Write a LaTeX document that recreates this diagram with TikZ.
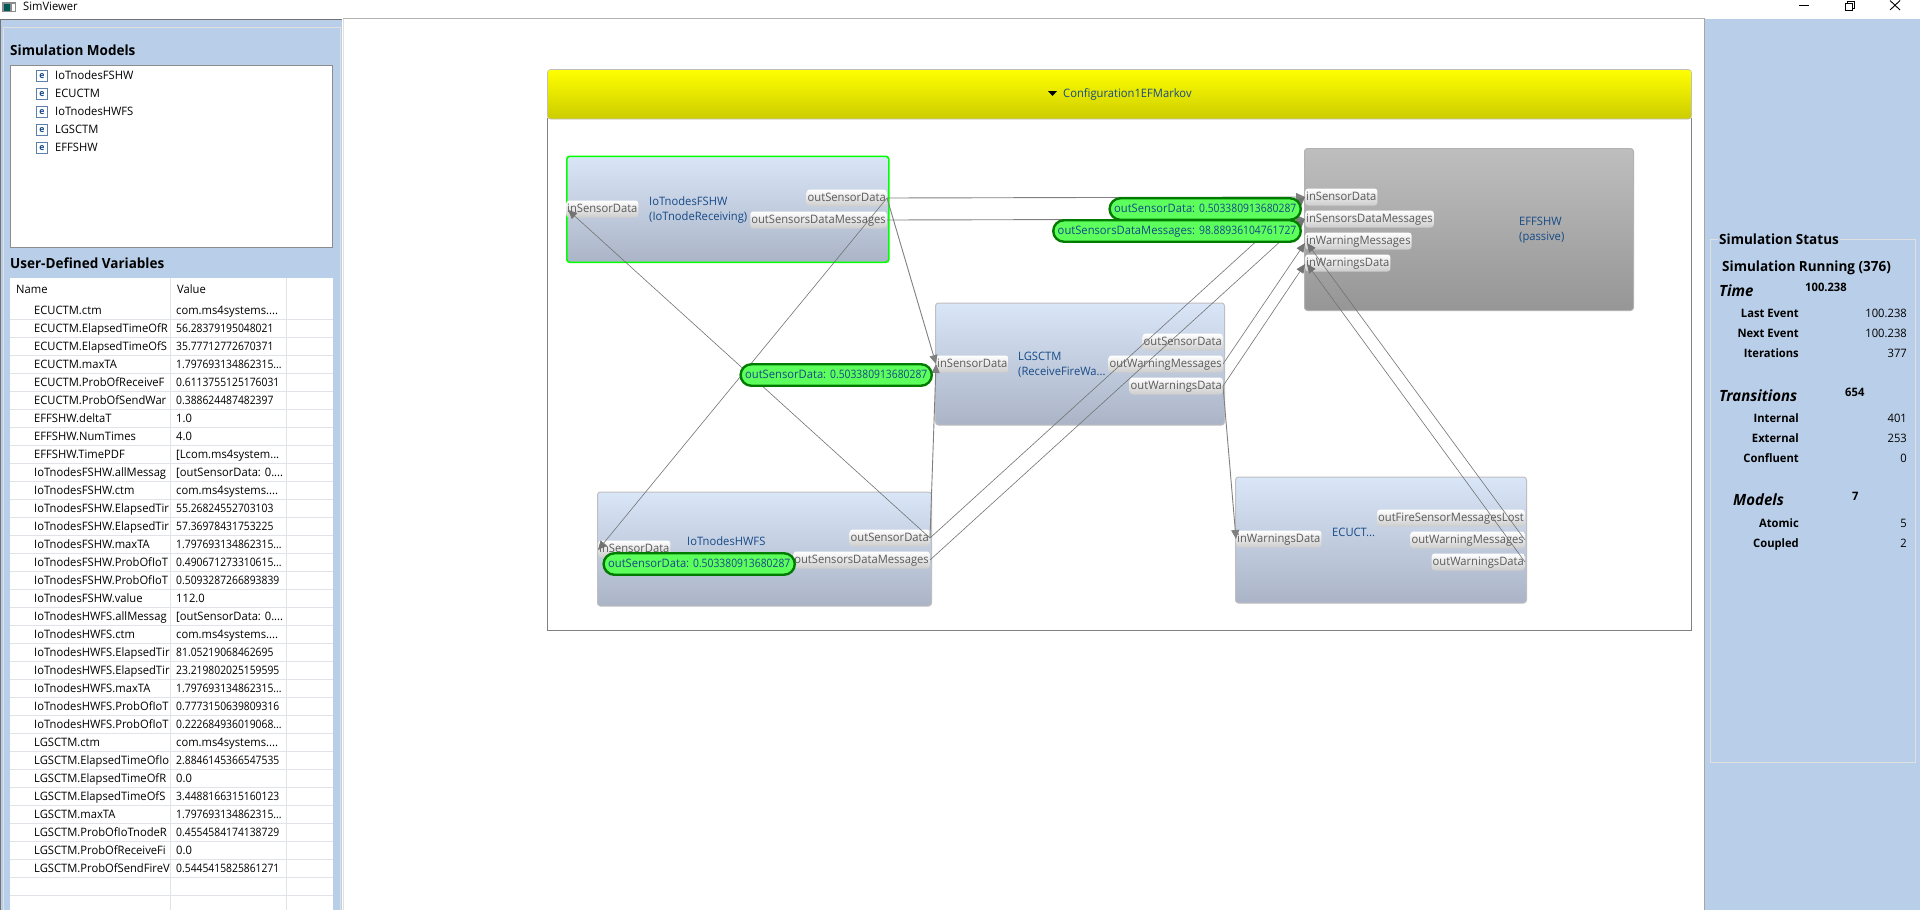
\documentclass[tikz,border=0pt]{standalone}
\usepackage{fontspec}
\setmainfont[FakeStretch=0.965]{Open Sans}
\newfontfamily\dgt[FakeStretch=0.89]{Open Sans}
\usetikzlibrary{arrows.meta,shapes.misc}
\definecolor{panelc}{HTML}{B9CFE9}
\definecolor{framec}{HTML}{808080}
\definecolor{gridc}{HTML}{E0E4E8}
\definecolor{namec}{HTML}{164A86}
\definecolor{porttx}{HTML}{5A5A5A}
\definecolor{bubblef}{HTML}{5CFF5C}
\definecolor{bubbled}{HTML}{007B00}
\definecolor{blockt}{HTML}{D9E6F8}
\definecolor{blockb}{HTML}{AAB4C6}
\definecolor{greyt}{HTML}{BEBEBE}
\definecolor{greyb}{HTML}{969696}
\newcommand{\fnorm}{\fontsize{11.6}{14}\selectfont}
\newcommand{\fhead}{\fontsize{14}{16}\selectfont\bfseries}
\newcommand{\fsect}{\fontsize{15.5}{18}\selectfont\bfseries\itshape}
\tikzset{
  txt/.style={inner sep=0pt,anchor=west,text height=8.5pt,text depth=2.5pt,font=\fnorm,text=black},
  txtr/.style={txt,anchor=east},
  btxt/.style={txt,font=\fnorm\bfseries},
  btxtr/.style={btxt,anchor=east},
  headtxt/.style={txt,font=\fhead,text height=10pt,text depth=3pt},
  secttxt/.style={txt,font=\fsect,text height=10pt,text depth=3pt},
  block/.style={anchor=north west,inner sep=0pt,rounded corners=3pt,top color=blockt,bottom color=blockb,draw=#1,line width=1pt},
  block/.default={black!25},
  greyblock/.style={anchor=north west,inner sep=0pt,rounded corners=3pt,top color=greyt,bottom color=greyb,draw=black!30,line width=1pt},
  blockname/.style={txt,text=namec},
  portl/.style={anchor=west,inner xsep=1pt,inner ysep=0pt,minimum height=17pt,rounded corners=3pt,top color=white,bottom color=black!20,text=porttx,font=\fnorm,text height=8.5pt,text depth=2.5pt},
  portr/.style={portl,anchor=east},
  wire/.style={draw=framec,line width=0.9pt},
  thin wire/.style={draw=black!55,line width=0.6pt},
  tip/.style={-{Triangle[length=9pt,width=8pt]}},
  bubble/.style={rounded rectangle,anchor=east,draw=bubbled,line width=2.4pt,fill=bubblef,inner xsep=3pt,inner ysep=0pt,minimum height=21.5pt,text=namec,font=\fnorm,text height=8.5pt,text depth=2.5pt},
  ticon/.style={draw=namec!70,fill=white,line width=0.8pt,minimum size=11pt,inner sep=0pt,text=namec,font=\fontsize{9}{9}\selectfont\bfseries},
}
\begin{document}
\begin{tikzpicture}[x=1pt,y=-1pt]
\useasboundingbox (0,0) rectangle (1920,910);
\fill[white] (0,0) rectangle (1920,910);
% --- title bar
\fill[black!45] (2,2) rectangle (16,12);
\fill[teal!70!black] (4,4) rectangle (10,11);
\fill[white] (12,4) rectangle (15,11);
\node[txt] (wintitle) at (23,7) {SimViewer};
\draw[black,line width=0.9pt] (1799,5) -- (1809,5);
\draw[black,line width=0.9pt] (1845,3) rectangle (1852,10);
\draw[black,line width=0.9pt] (1847,3) -- (1847,1) -- (1854,1) -- (1854,8) -- (1852,8);
\draw[black,line width=0.9pt] (1890,0.5) -- (1900,10) (1900,0.5) -- (1890,10);
% --- left panel
\fill[panelc] (1,19) rectangle (342,910);
\draw[black!55,line width=1pt] (0.5,910) -- (0.5,19) -- (342,19);
\draw[black!12,line width=0.8pt] (3,910) -- (3,27.5) -- (340,27.5) -- (340,910);
\node[headtxt] (modelstitle) at (10,51.5) {Simulation Models};
\draw[black!45,fill=white,line width=1pt] (10.5,65.5) rectangle (332.5,247.5);
\foreach \mdl/\yy [count=\i] in {IoTnodesFSHW/76,ECUCTM/94,IoTnodesHWFS/112,LGSCTM/130,EFFSHW/148}{
  \node[ticon] (ti\i) at (42,\yy) {e};
  \node[txt] (tm\i) at (55,\yy) {\mdl};
}
\node[headtxt] (varstitle) at (10,264.5) {User-Defined Variables};
\fill[white] (10,278) rectangle (333,910);
\foreach \n in {0,...,33}{ \draw[gridc,line width=0.8pt] (10,319.3+18*\n) -- (333,319.3+18*\n); }
\draw[gridc,line width=0.8pt] (170.5,278) -- (170.5,910) (286.5,278) -- (286.5,910);
\node[txt] (namehdr) at (16,290) {Name};
\node[txt] (valuehdr) at (177,290) {Value};
\foreach \nm/\vl [count=\i from 0] in {
  ECUCTM.ctm/{com.ms4systems....},
  ECUCTM.ElapsedTimeOfR/{\dgt 56.28379195048021},
  ECUCTM.ElapsedTimeOfS/{\dgt 35.77712772670371},
  ECUCTM.maxTA/{\dgt 1.797693134862315...},
  ECUCTM.ProbOfReceiveF/{\dgt 0.6113755125176031},
  ECUCTM.ProbOfSendWar/{\dgt 0.388624487482397},
  EFFSHW.deltaT/{1.0},
  EFFSHW.NumTimes/{4.0},
  EFFSHW.TimePDF/{[Lcom.ms4system...},
  IoTnodesFSHW.allMessag/{[outSensorData: 0....},
  IoTnodesFSHW.ctm/{com.ms4systems....},
  IoTnodesFSHW.ElapsedTir/{\dgt 55.26824552703103},
  IoTnodesFSHW.ElapsedTir/{\dgt 57.36978431753225},
  IoTnodesFSHW.maxTA/{\dgt 1.797693134862315...},
  IoTnodesFSHW.ProbOfIoT/{\dgt 0.490671273310615...},
  IoTnodesFSHW.ProbOfIoT/{\dgt 0.5093287266893839},
  IoTnodesFSHW.value/{112.0},
  IoTnodesHWFS.allMessag/{[outSensorData: 0....},
  IoTnodesHWFS.ctm/{com.ms4systems....},
  IoTnodesHWFS.ElapsedTir/{\dgt 81.05219068462695},
  IoTnodesHWFS.ElapsedTir/{\dgt 23.219802025159595},
  IoTnodesHWFS.maxTA/{\dgt 1.797693134862315...},
  IoTnodesHWFS.ProbOfIoT/{\dgt 0.7773150639809316},
  IoTnodesHWFS.ProbOfIoT/{\dgt 0.222684936019068...},
  LGSCTM.ctm/{com.ms4systems....},
  LGSCTM.ElapsedTimeOfIo/{\dgt 2.8846145366547535},
  LGSCTM.ElapsedTimeOfR/{0.0},
  LGSCTM.ElapsedTimeOfS/{\dgt 3.4488166315160123},
  LGSCTM.maxTA/{\dgt 1.797693134862315...},
  LGSCTM.ProbOfIoTnodeR/{\dgt 0.4554584174138729},
  LGSCTM.ProbOfReceiveFi/{0.0},
  LGSCTM.ProbOfSendFireV/{\dgt 0.5445415825861271}}{
  \begin{scope}
    \clip (10,300+18*\i) rectangle (170,322+18*\i);
    \node[txt] (rn\i) at (34,311+18*\i) {\nm};
  \end{scope}
  \node[txt] (rv\i) at (176,311+18*\i) {\vl};
}
% --- right panel
\fill[panelc] (1705,18.5) rectangle (1920,910);
\draw[black!35,line width=1pt] (1704.5,910) -- (1704.5,18.5) -- (1704,18.5);
\draw[black!30,line width=1pt] (343,18.5) -- (1704,18.5);
\draw[black!12,line width=0.8pt] (343.5,19) -- (343.5,910);
\draw[black!12,line width=1pt] (1710.5,239.5) rectangle (1915,762);
\node[headtxt,fill=panelc,inner xsep=1pt,anchor=west] (stattitle) at (1718,241) {Simulation Status};
\node[headtxt] (statrun) at (1722,267.5) {Simulation Running (376)};
\node[secttxt] (sectime) at (1719,292.5) {Time};
\node[btxt] (vtime) at (1805,288) {100.238};
\node[secttxt] (sectrans) at (1719,397.5) {Transitions};
\node[btxt] (vtrans) at (1845,393) {654};
\node[secttxt] (secmodels) at (1733,502) {Models};
\node[btxt] (vmodels) at (1852,497) {7};
\foreach \lb/\vl/\yy [count=\i] in {Last Event/100.238/314,Next Event/100.238/334,Iterations/377/354,Internal/401/419,External/253/439,Confluent/0/459,Atomic/5/524,Coupled/2/544}{
  \node[btxtr] (sl\i) at (1799,\yy) {\lb};
  \node[txtr] (sv\i) at (1907,\yy) {\vl};
}
% --- container
\draw[framec,line width=1pt] (547.5,118) -- (547.5,630.5) -- (1691.5,630.5) -- (1691.5,118);
\shade[top color=yellow,bottom color=yellow!80!black,draw=black!25,line width=0.6pt,rounded corners=3pt] (547.5,119) -- (547.5,69.5) -- (1691.5,69.5) -- (1691.5,119) -- cycle;
\fill[black] (1048,91) -- (1057,91) -- (1052.5,96) -- cycle;
\node[blockname] (conftitle) at (1063,94) {Configuration1EFMarkov};
% --- blocks
\node[block=green,line width=1.6pt,minimum width=322pt,minimum height=106pt] (fs) at (566,155.5) {};
\node[block,minimum width=289pt,minimum height=122pt] (lg) at (935,302.5) {};
\node[block,minimum width=334pt,minimum height=114pt] (hw) at (597,491.5) {};
\node[block,minimum width=291pt,minimum height=126pt] (ec) at (1235,476.5) {};
\node[greyblock,minimum width=329pt,minimum height=162pt] (ef) at (1304,148) {};
\node[blockname] (fsn1) at (649,202) {IoTnodesFSHW};
\node[blockname] (fsn2) at (649,217) {(IoTnodeReceiving)};
\node[blockname] (lgn1) at (1018,357) {LGSCTM};
\node[blockname] (lgn2) at (1018,372) {(ReceiveFireWa...};
\node[blockname] (hwn1) at (687,542) {IoTnodesHWFS};
\node[blockname] (ecn1) at (1332,533) {ECUCT...};
\node[blockname] (efn1) at (1519,222) {EFFSHW};
\node[blockname] (efn2) at (1519,237) {(passive)};
% --- ports
\node[portl] (fsi) at (566,209) {inSensorData};
\node[portr] (fso1) at (887,198) {outSensorData};
\node[portr] (fso2) at (887,220) {outSensorsDataMessages};
\node[portl] (lgi) at (936,364) {inSensorData};
\node[portr] (lgo1) at (1223,342) {outSensorData};
\node[portr] (lgo2) at (1223,364) {outWarningMessages};
\node[portr] (lgo3) at (1223,386) {outWarningsData};
\node[portl] (hwi) at (598,549) {inSensorData};
\node[portr] (hwo1) at (930,538) {outSensorData};
\node[portr] (hwo2) at (930,560) {outSensorsDataMessages};
\node[portl] (eci) at (1236,539) {inWarningsData};
\node[portr] (eco1) at (1525,518) {outFireSensorMessagesLost};
\node[portr] (eco2) at (1525,540) {outWarningMessages};
\node[portr] (eco3) at (1525,562) {outWarningsData};
\node[portl] (efi1) at (1305,197) {inSensorData};
\node[portl] (efi2) at (1305,219) {inSensorsDataMessages};
\node[portl] (efi3) at (1305,241) {inWarningMessages};
\node[portl] (efi4) at (1305,263) {inWarningsData};
% --- connectors
\draw[wire,tip] (fso1.east) -- (efi1.west);
\draw[wire,tip] (fso2.east) -- (efi2.west);
\draw[wire,tip] (fso1.east) -- (lgi.west);
\draw[thin wire,tip] (fso1.east) -- ([yshift=-1pt]hwi.west);
\draw[thin wire,tip] (hwo1.east) -- ([xshift=2pt,yshift=-1pt]fsi.west);
\draw[wire,tip] (hwo1.east) -- (lgi.west);
\draw[thin wire,tip] (hwo1.east) -- (efi1.west);
\draw[thin wire,tip] (hwo2.east) -- (efi2.west);
\draw[thin wire,tip] (lgo2.east) -- ([yshift=-2pt]efi3.west);
\draw[thin wire,tip] (lgo3.east) -- ([yshift=-1pt]efi4.west);
\draw[wire,tip] (lgo3.east) -- (eci.west);
\draw[thin wire,tip] (eco2.east) -- ([xshift=2pt,yshift=-2pt]efi3.west);
\draw[thin wire,tip] (eco3.east) -- ([xshift=2pt,yshift=-1pt]efi4.west);
% --- value bubbles
\node[bubble] (b1) at (933,375) {outSensorData: {\dgt 0.503380913680287}};
\node[bubble] (b2) at (1302,209) {outSensorData: {\dgt 0.503380913680287}};
\node[bubble] (b3) at (1302,231) {outSensorsDataMessages: {\dgt 98.88936104761727}};
\node[bubble] (b4) at (796,564) {outSensorData: {\dgt 0.503380913680287}};
\end{tikzpicture}
\end{document}
